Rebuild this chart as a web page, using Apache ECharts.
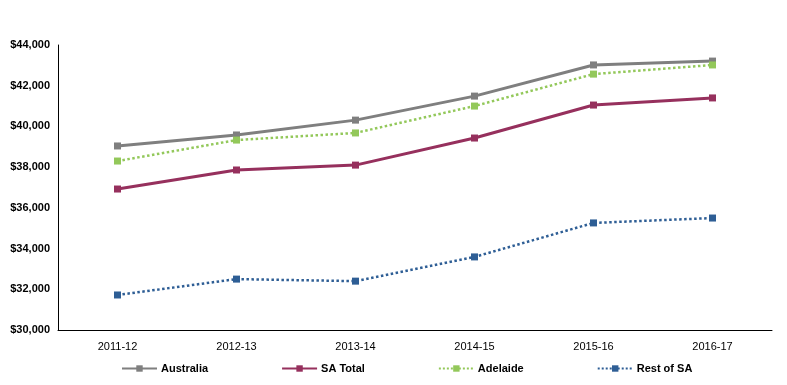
<!DOCTYPE html>
<html><head><meta charset="utf-8">
<script src="https://cdn.jsdelivr.net/npm/echarts@6/dist/echarts.min.js"></script>
<style>html,body{margin:0;padding:0;background:#fff}#c{width:787px;height:385px}</style>
</head><body><div id="c"></div>
<script>
const categories = ['2011-12','2012-13','2013-14','2014-15','2015-16','2016-17'];
const australia = [39040, 39580, 40310, 41490, 43020, 43210];
const saTotal = [36925, 37860, 38100, 39430, 41050, 41400];
const adelaide = [38300, 39330, 39680, 41000, 42570, 43020];
const restOfSA = [31720, 32500, 32400, 33590, 35260, 35500];

const chart = echarts.init(document.getElementById('c'));
function s(name, data, color, type, width){
  return {name, type:'line', data, symbol:'rect', symbolSize:7, showSymbol:true,
    itemStyle:{color}, lineStyle:{color, width, type}, animation:false};
}
chart.setOption({
  animation:false,
  grid:{left:58, right:15, top:45, bottom:55},
  xAxis:{type:'category', data:categories, boundaryGap:true,
    axisLine:{lineStyle:{color:'#000', width:1}}, axisTick:{show:false},
    axisLabel:{color:'#000', fontFamily:'Arial, Liberation Sans', fontSize:11, margin:11}},
  yAxis:{type:'value', min:30000, max:44000, interval:2000,
    axisLine:{show:true, lineStyle:{color:'#000', width:1}}, axisTick:{show:false},
    splitLine:{show:false},
    axisLabel:{color:'#000', fontFamily:'Arial, Liberation Sans', fontSize:11, fontWeight:'bold', margin:8,
      formatter:v=>'$'+v.toLocaleString('en-US')}},
  legend:{bottom:6, left:116, itemGap:73, itemWidth:35, itemHeight:8,
    textStyle:{color:'#000', fontFamily:'Arial, Liberation Sans', fontSize:11, fontWeight:'bold', padding:[0,0,0,-1]},
    data:['Australia','SA Total','Adelaide','Rest of SA']},
  series:[
    s('Australia', australia, '#7f7f7f', 'solid', 3),
    s('SA Total', saTotal, '#96305d', 'solid', 3),
    s('Adelaide', adelaide, '#93c85a', 'dotted', 2.5),
    s('Rest of SA', restOfSA, '#2e5e95', 'dotted', 2.5)
  ]
});
</script></body></html>
